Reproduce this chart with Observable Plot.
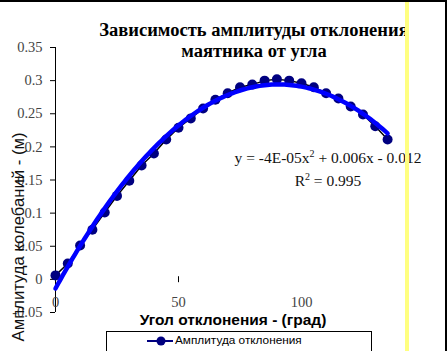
<!DOCTYPE html>
<html><head><meta charset="utf-8">
<script src="https://cdn.jsdelivr.net/npm/d3@7"></script>
<script src="https://cdn.jsdelivr.net/npm/@observablehq/plot@0.6"></script>
<style>
body{margin:0;background:#fff}
#wrap{position:relative;width:447px;height:351px;overflow:hidden;background:#fff}
#chart{position:absolute;left:0;top:0}
.t{position:absolute;white-space:nowrap;color:#000}
#title{left:0;width:508px;top:20px;text-align:center;font:bold 18.5px "Liberation Serif",serif;line-height:21px}
#eq{left:178px;width:300px;top:144px;text-align:center;font:15.5px "Liberation Serif",serif;line-height:19px;color:#111}
#xt{left:83px;width:300px;top:311px;text-align:center;font:bold 15.5px "Liberation Sans",Arial,sans-serif}
#yt{left:19px;top:237px;transform:translate(-50%,-50%) rotate(-90deg);font:16.7px "Liberation Sans",Arial,sans-serif;color:#111}
#legend{position:absolute;left:106px;top:331px;width:264px;height:30px;border:1px solid #000;background:#fff}
#legend svg{position:absolute;left:0;top:0}
#legtxt{left:68px;top:1px;font:11.8px "Liberation Sans",Arial,sans-serif}
#yellow{position:absolute;left:405px;top:0;width:4px;height:351px;background:#ffff80;z-index:5}
#btop{position:absolute;left:0;top:0;width:447px;height:2px;background:#000;z-index:6}
#bright{position:absolute;left:445px;top:0;width:2px;height:351px;background:#000;z-index:6}
</style></head><body>
<div id="wrap">
  <div id="chart"></div>
  <div class="t" id="title">Зависимость амплитуды отклонения<br>маятника от угла</div>
  <div class="t" id="eq">y = -4E-05x<sup style="font-size:10px">2</sup> + 0.006x - 0.012<br>R<sup style="font-size:10px">2</sup> = 0.995</div>
  <div class="t" id="xt">Угол отклонения - (град)</div>
  <div class="t" id="yt">Амплитуда колебаний - (м)</div>
  <div id="legend">
    <svg width="264" height="30"><line x1="40" x2="66" y1="9" y2="9" stroke="#000080" stroke-width="2"/><circle cx="54" cy="9" r="4.5" fill="#000080"/></svg>
    <div class="t" id="legtxt">Амплитуда отклонения</div>
  </div>
  <div id="yellow"></div>
  <div id="btop"></div>
  <div id="bright"></div>
</div>
<script>
const angles = [0,5,10,15,20,25,30,35,40,45,50,55,60,65,70,75,80,85,90,95,100,105,110,115,120,125,130,135];
const amplitudes = [0.006,0.024,0.051,0.075,0.101,0.126,0.149,0.172,0.190,0.211,0.229,0.243,0.258,0.271,0.281,0.290,0.294,0.300,0.302,0.300,0.296,0.290,0.281,0.273,0.261,0.249,0.231,0.211];
const yTicks = [-0.05,0,0.05,0.1,0.15,0.2,0.25,0.3,0.35];
const xTicks = [0,50,100];
const xMarkTicks = [50];

const data = angles.map((a,i)=>({angle:a, amp:amplitudes[i]}));

// quadratic least-squares trendline (as Excel's polynomial trendline)
function polyfit2(xs, ys){
  let S=[0,0,0,0,0], T=[0,0,0];
  xs.forEach((x,i)=>{let p=1;for(let k=0;k<5;k++){S[k]+=p;if(k<3)T[k]+=p*ys[i];p*=x;}});
  const A=[[S[0],S[1],S[2],T[0]],[S[1],S[2],S[3],T[1]],[S[2],S[3],S[4],T[2]]];
  for(let i=0;i<3;i++){for(let j=i+1;j<3;j++){const f=A[j][i]/A[i][i];for(let k=i;k<4;k++)A[j][k]-=f*A[i][k];}}
  const c=[0,0,0];
  for(let i=2;i>=0;i--){let s=A[i][3];for(let k=i+1;k<3;k++)s-=A[i][k]*c[k];c[i]=s/A[i][i];}
  return c;
}
const coef = polyfit2(angles, amplitudes);
const xmin = d3.min(angles), xmax = d3.max(angles);
const trend = d3.range(xmin, xmax + 0.001, 1).map(x=>({angle:x, amp:coef[0]+coef[1]*x+coef[2]*x*x}));

const chart = Plot.plot({
  width:447, height:351,
  marginLeft:55, marginRight:23, marginTop:47, marginBottom:39,
  x:{domain:[0,150], axis:null},
  y:{domain:[-0.05,0.35], axis:null},
  style:{background:"transparent", overflow:"visible"},
  marks:[
    Plot.ruleX([0],{y1:-0.05, y2:0.35, stroke:"#000", strokeWidth:1}),
    Plot.axisY({ticks:yTicks, tickSize:5, tickPadding:8, tickFormat:d=>String(+d.toFixed(2)),
      fontFamily:"Liberation Serif", fontSize:14.5, fill:"#444", stroke:"#000", strokeOpacity:1, label:null}),
    Plot.ruleX(xMarkTicks,{y1:-0.005, y2:0.004, stroke:"#000"}),
    Plot.text(xTicks,{x:d=>d, y:-0.05, dy:-10, text:d=>String(d), fontFamily:"Liberation Serif", fontSize:14.5, fill:"#444"}),
    Plot.line(data,{x:"angle", y:"amp", stroke:"#000", strokeWidth:1.5}),
    Plot.dot(data,{x:"angle", y:"amp", r:5, fill:"#000080", stroke:"none"}),
    Plot.line(trend,{x:"angle", y:"amp", stroke:"#0000ff", strokeWidth:4.5})
  ]
});
document.getElementById("chart").append(chart);
</script>
</body></html>
